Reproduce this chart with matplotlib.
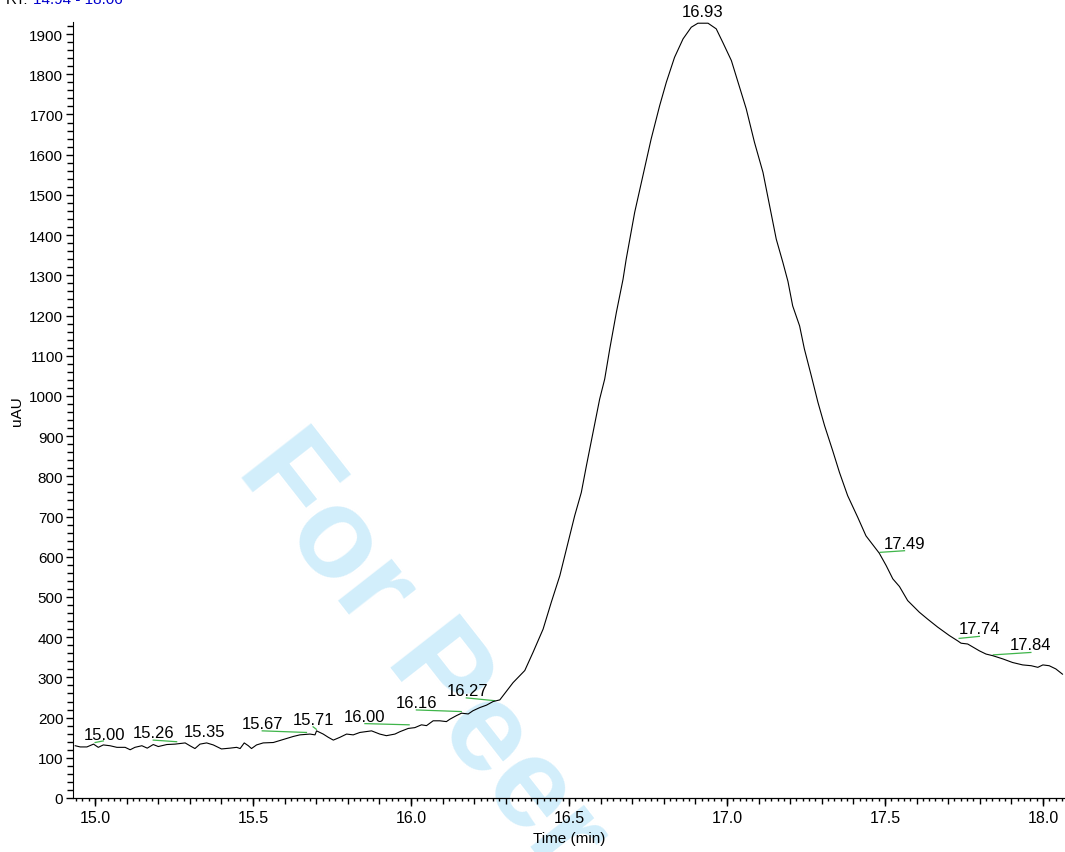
import matplotlib
matplotlib.use("Agg")
import matplotlib.pyplot as plt
from matplotlib.ticker import MultipleLocator, FormatStrFormatter

plt.rcParams['font.family'] = ['Liberation Sans', 'DejaVu Sans']

# chromatogram trace (time in min, signal in uAU)
time_min = [14.937, 14.953, 14.974, 14.995, 15.010, 15.026, 15.047, 15.069, 15.095, 15.111,
            15.126, 15.148, 15.165, 15.184, 15.200, 15.227, 15.253, 15.285, 15.300, 15.316,
            15.332, 15.353, 15.374, 15.400, 15.427, 15.448, 15.459, 15.472, 15.485, 15.495,
            15.511, 15.532, 15.564, 15.585, 15.627, 15.648, 15.680, 15.696, 15.701, 15.722,
            15.738, 15.754, 15.775, 15.796, 15.817, 15.838, 15.875, 15.901, 15.922, 15.949,
            15.965, 15.991, 16.012, 16.033, 16.049, 16.070, 16.091, 16.112, 16.123, 16.144,
            16.160, 16.181, 16.196, 16.218, 16.239, 16.260, 16.281, 16.323, 16.360, 16.386,
            16.418, 16.444, 16.471, 16.497, 16.518, 16.539, 16.555, 16.576, 16.597, 16.613,
            16.629, 16.650, 16.671, 16.681, 16.708, 16.734, 16.760, 16.787, 16.808, 16.834,
            16.861, 16.887, 16.908, 16.940, 16.966, 16.987, 17.014, 17.035, 17.061, 17.087,
            17.114, 17.135, 17.156, 17.177, 17.193, 17.208, 17.230, 17.245, 17.267, 17.288,
            17.309, 17.335, 17.356, 17.382, 17.414, 17.440, 17.482, 17.504, 17.525, 17.546,
            17.572, 17.609, 17.635, 17.667, 17.704, 17.730, 17.741, 17.762, 17.799, 17.820,
            17.841, 17.873, 17.904, 17.936, 17.963, 17.984, 18.000, 18.020, 18.041, 18.062]
signal_uau = [130, 127, 127, 134, 126, 132, 130, 126, 126, 120,
              126, 130, 124, 133, 128, 133, 134, 137, 130, 123,
              134, 137, 132, 122, 124, 126, 123, 137, 130, 123,
              132, 137, 138, 143, 153, 157, 159, 157, 167, 159,
              151, 144, 151, 159, 157, 163, 167, 159, 155, 159,
              165, 173, 175, 182, 180, 192, 192, 190, 196, 205,
              211, 209, 217, 225, 231, 240, 244, 287, 317, 362,
              420, 487, 553, 636, 702, 760, 826, 909, 992, 1042,
              1117, 1208, 1290, 1340, 1457, 1548, 1639, 1722, 1780, 1842,
              1888, 1917, 1927, 1927, 1913, 1879, 1834, 1780, 1714, 1631,
              1556, 1473, 1390, 1332, 1285, 1224, 1174, 1117, 1050, 984,
              926, 863, 810, 752, 698, 652, 609, 578, 545, 526,
              491, 462, 445, 425, 404, 391, 385, 383, 366, 358,
              354, 346, 337, 331, 329, 325, 331, 329, 321, 308]

# peak labels: text, x, y (bottom of text)
peak_labels = ['15.00', '15.26', '15.35', '15.67', '15.71', '16.00', '16.16', '16.27',
               '16.93', '17.49', '17.74', '17.84']
label_x = [15.03, 15.184, 15.345, 15.529, 15.69, 15.854, 16.017, 16.178,
           16.924, 17.562, 17.799, 17.96]
label_y = [140, 145, 147, 167, 177, 184, 219, 248, 1937, 615, 402, 362]

# green baseline marks under the labels: (t1, v1, t2, v2)
base_t1 = [15.000, 15.184, 15.529, 15.690, 15.854, 16.017, 16.175, 17.485, 17.735, 17.843]
base_v1 = [138, 144, 167, 177, 185, 219, 249, 611, 397, 356]
base_t2 = [15.026, 15.258, 15.669, 15.700, 15.994, 16.159, 16.265, 17.562, 17.799, 17.962]
base_v2 = [142, 140, 163, 171, 182, 215, 242, 615, 402, 362]

fig = plt.figure(figsize=(10.65, 8.53), dpi=100)
ax = fig.add_axes([73 / 1065, 1 - 799 / 853, (1065 - 73) / 1065, (799 - 23) / 853])
ax.set_zorder(1)
ax.patch.set_alpha(0)

# watermark, behind the axes
fig.text(0.2216, 0.449, 'For Peer Review', fontsize=92, fontweight='bold',
         color='#d2eefb', rotation=-52, rotation_mode='anchor',
         ha='left', va='baseline', zorder=0)

ax.plot(time_min, signal_uau, color='black', lw=0.8, zorder=3)
for t1, v1, t2, v2 in zip(base_t1, base_v1, base_t2, base_v2):
    ax.plot([t1, t2], [v1, v2], color='#3fb54a', lw=0.9, zorder=2)
for txt, x, y in zip(peak_labels, label_x, label_y):
    ax.text(x, y, txt, ha='center', va='bottom', fontsize=12, clip_on=False, zorder=4)

ax.set_xlim(14.93, 18.07)
ax.set_ylim(0, 1930)
for s in ['top', 'right']:
    ax.spines[s].set_visible(False)

ax.xaxis.set_major_locator(MultipleLocator(0.5))
ax.xaxis.set_major_formatter(FormatStrFormatter('%.1f'))
ax.yaxis.set_major_locator(MultipleLocator(100))
ax.yaxis.set_minor_locator(MultipleLocator(20))
ax.tick_params(axis='x', which='major', length=6, width=1, pad=3, labelsize=11.5)
ax.tick_params(axis='y', which='major', length=5, width=1, pad=2, labelsize=11)
ax.tick_params(axis='y', which='minor', length=4, width=1)

# extra tick levels on the time axis
sec = ax.secondary_xaxis('bottom')
sec.xaxis.set_major_locator(MultipleLocator(0.1))
sec.xaxis.set_minor_locator(MultipleLocator(0.02))
sec.tick_params(which='major', length=4.5, width=1, labelbottom=False)
sec.tick_params(which='minor', length=2.5, width=1)

ax.set_xlabel('Time (min)', fontsize=11, labelpad=4)
ax.set_ylabel('uAU', fontsize=11, labelpad=4)

# header cut off at top of the image
fig.text(6 / 1065, 1 - 4 / 853, 'RT:', fontsize=11, color='black', va='baseline')
fig.text(33 / 1065, 1 - 4 / 853, '14.94 - 18.06', fontsize=11, color='#0000cc', va='baseline')

fig.savefig('out.png', dpi=100)
